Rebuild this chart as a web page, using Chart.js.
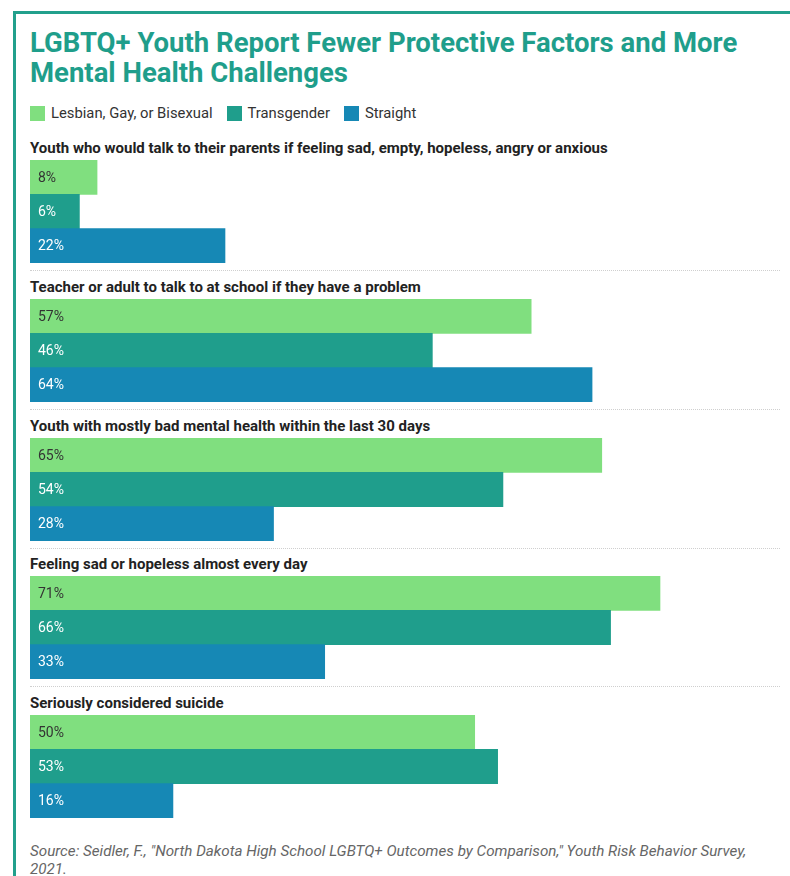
<!DOCTYPE html>
<html>
<head>
<meta charset="utf-8">
<script src="https://cdn.jsdelivr.net/npm/chart.js@4"></script>
<style>
  body { margin: 0; background: #fff; font-family: Roboto, sans-serif; width: 790px; height: 876px; overflow: hidden; position: relative; }
  .card { position: absolute; left: 13px; top: 11px; width: 800px; height: 900px; border-left: 3px solid #22a08c; border-top: 3px solid #22a08c; }
  .title { position: absolute; left: 30px; top: 28px; font-size: 27.5px; font-weight: 700; line-height: 30px; color: #1f9e8b; margin: 0; white-space: nowrap; }
  .legend { position: absolute; left: 30px; top: 104px; font-size: 14.8px; color: #333; display: flex; align-items: center; }
  .legend span.sw { display: inline-block; width: 15px; height: 15px; margin-right: 6px; }
  .legend span.lbl { margin-right: 14px; }
  .group { position: absolute; left: 30px; width: 750px; }
  .group .head { font-size: 15px; font-weight: 700; color: #222; line-height: 18px; height: 18px; white-space: nowrap; }
  .group .box { position: absolute; top: 22px; left: 0; width: 750px; height: 103px; }
  .group .sep { position: absolute; top: 132px; left: 0; width: 750px; border-top: 1px dotted #cfcfcf; }
  .source { position: absolute; left: 30px; top: 842px; font-size: 15.2px; font-style: italic; color: #666; line-height: 18px; white-space: nowrap; }
</style>
</head>
<body>
<div class="card"></div>
<h1 class="title">LGBTQ+ Youth Report Fewer Protective Factors and More<br>Mental Health Challenges</h1>
<div class="legend" id="legend"></div>
<div id="groups"></div>
<div class="source">Source: Seidler, F., "North Dakota High School LGBTQ+ Outcomes by Comparison," Youth Risk Behavior Survey,<br>2021.</div>

<script>
// categories (one small chart per question)
const questions = [
    "Youth who would talk to their parents if feeling sad, empty, hopeless, angry or anxious",
    "Teacher or adult to talk to at school if they have a problem",
    "Youth with mostly bad mental health within the last 30 days",
    "Feeling sad or hopeless almost every day",
    "Seriously considered suicide"
];
const seriesNames = ["Lesbian, Gay, or Bisexual", "Transgender", "Straight"];
const seriesColors = ["#80df7f", "#1f9e8c", "#1688b5"];
const labelColors = ["#333333", "#ffffff", "#ffffff"];

// percent values
const lgbValues = [7.6, 56.8, 64.8, 71.4, 50.4];
const transValues = [5.6, 45.6, 53.6, 65.8, 53.0];
const straightValues = [22.1, 63.7, 27.6, 33.4, 16.2];

// legend
const legendEl = document.getElementById("legend");
seriesNames.forEach((name, i) => {
    legendEl.innerHTML += '<span class="sw" style="background:' + seriesColors[i] + '"></span><span class="lbl">' + name + '</span>';
});

// labels inside the bars
const barLabels = {
    id: "barLabels",
    afterDatasetsDraw(chart) {
        const ctx = chart.ctx;
        const meta = chart.getDatasetMeta(0);
        ctx.save();
        ctx.font = "400 14px Roboto";
        ctx.textBaseline = "middle";
        meta.data.forEach((bar, i) => {
            ctx.fillStyle = labelColors[i];
            ctx.fillText(Math.round(chart.data.datasets[0].data[i]) + "%", bar.base + 8, bar.y + 1);
        });
        ctx.restore();
    }
};

const groupsEl = document.getElementById("groups");

questions.forEach((q, i) => {
    const g = document.createElement("div");
    g.className = "group";
    g.style.top = (139 + i * 138.75) + "px";
    g.innerHTML = '<div class="head">' + q + '</div><div class="box"><canvas></canvas></div>' + (i < questions.length - 1 ? '<div class="sep"></div>' : '');
    groupsEl.appendChild(g);
    // keep bars where they were
    g.querySelector(".box").style.top = "21px";
    if (g.querySelector(".sep")) g.querySelector(".sep").style.top = "131px";

    new Chart(g.querySelector("canvas"), {
        type: "bar",
        data: {
            labels: seriesNames,
            datasets: [{
                data: [lgbValues[i], transValues[i], straightValues[i]],
                backgroundColor: seriesColors,
                categoryPercentage: 1,
                barPercentage: 1
            }]
        },
        options: {
            indexAxis: "y",
            responsive: true,
            maintainAspectRatio: false,
            animation: false,
            layout: { padding: 0 },
            plugins: {
                legend: { display: false },
                tooltip: { enabled: false }
            },
            scales: {
                x: { min: 0, max: 85, display: false },
                y: { display: false }
            }
        },
        plugins: [barLabels]
    });
});
</script>
</body>
</html>
